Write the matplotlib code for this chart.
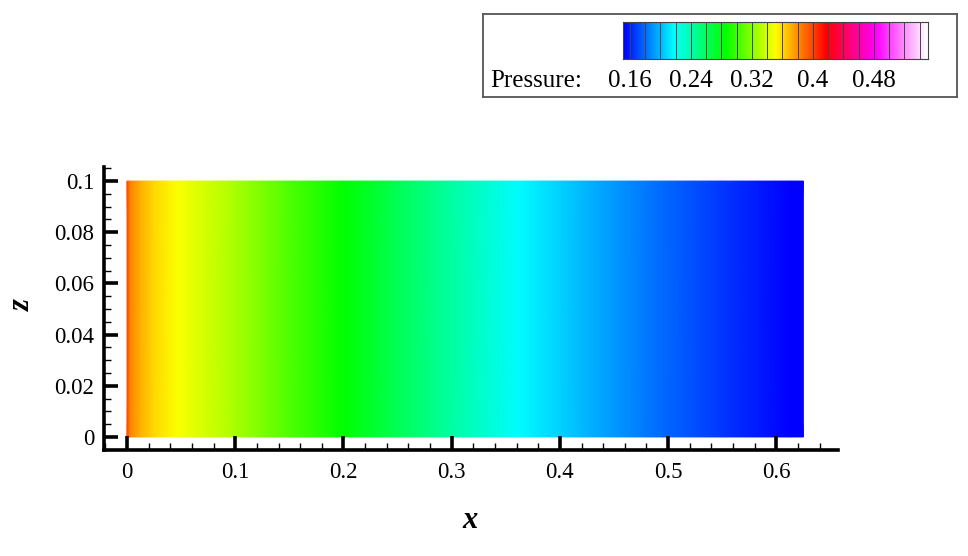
import numpy as np
import matplotlib
matplotlib.use('Agg')
from matplotlib import pyplot as plt
from matplotlib.colors import LinearSegmentedColormap, Normalize
from matplotlib.ticker import MultipleLocator

# pressure read along the channel (does not change with z)
x_samples = [0.0, 0.003, 0.012, 0.025, 0.046, 0.1, 0.15, 0.2, 0.25, 0.3, 0.363, 0.42, 0.48, 0.55, 0.613, 0.625]
p_samples = [0.398, 0.383, 0.372, 0.361, 0.351, 0.328, 0.305, 0.284, 0.262, 0.242, 0.217, 0.200, 0.183, 0.166, 0.152, 0.151]
z_edges = [0.0, 0.1]

legend_min, legend_max = 0.151, 0.551
legend_levels = [round(0.16 + 0.02 * i, 2) for i in range(20)]
legend_labels = ['0.16', '0.24', '0.32', '0.4', '0.48']

rainbow = LinearSegmentedColormap.from_list(
    'large_rainbow',
    ['#0000ff', '#00ffff', '#00ff00', '#ffff00', '#ff0000', '#ff00ff', '#ffffff'])
norm = Normalize(legend_min, legend_max)

plt.rcParams['font.family'] = ['Liberation Serif', 'DejaVu Serif']
W, H = 968, 556
fig = plt.figure(figsize=(W / 100, H / 100), dpi=100)


def px_box(x0, y0, x1, y1):
    return [x0 / W, 1 - y1 / H, (x1 - x0) / W, (y1 - y0) / H]


# main plot
ax = fig.add_axes(px_box(104, 167, 838, 450))
X, Z = np.meshgrid(x_samples, z_edges)
P = np.vstack([p_samples, p_samples])
ax.pcolormesh(X, Z, P, cmap=rainbow, norm=norm, shading='gouraud')
ax.set_xlim(-0.0213, 0.657)
ax.set_ylim(-0.0051, 0.1055)
for side in ['top', 'right']:
    ax.spines[side].set_visible(False)
for side in ['left', 'bottom']:
    ax.spines[side].set_linewidth(2.6)
ax.xaxis.set_major_locator(MultipleLocator(0.1))
ax.xaxis.set_minor_locator(MultipleLocator(0.02))
ax.yaxis.set_major_locator(MultipleLocator(0.02))
ax.yaxis.set_minor_locator(MultipleLocator(0.005))
ax.tick_params(which='major', direction='in', length=10, width=2.6, labelsize=16.5)
ax.tick_params(axis='x', which='major', pad=9)
ax.tick_params(axis='y', which='major', pad=7)
ax.tick_params(which='minor', direction='in', length=5, width=1)
ax.set_xticks([0, 0.1, 0.2, 0.3, 0.4, 0.5, 0.6])
ax.set_xticklabels(['0', '0.1', '0.2', '0.3', '0.4', '0.5', '0.6'])
ax.set_yticks([0, 0.02, 0.04, 0.06, 0.08, 0.1])
ax.set_yticklabels(['0', '0.02', '0.04', '0.06', '0.08', '0.1'])
ax.set_facecolor('none')

fig.text(470 / W, 1 - 520 / H, 'x', fontsize=22, fontweight='bold', fontstyle='italic',
         ha='center', va='center')
fig.text(22 / W, 1 - 305 / H, 'z', fontsize=22, fontweight='bold', fontstyle='italic',
         ha='center', va='center', rotation=90)

# legend box
box = fig.add_axes(px_box(483, 14, 957, 97))
box.set_xticks([])
box.set_yticks([])
for s in box.spines.values():
    s.set_linewidth(1.3)
    s.set_color('#555555')

bar = fig.add_axes(px_box(623, 22, 928, 59))
grad = np.linspace(legend_min, legend_max, 600)[None, :]
bar.imshow(grad, cmap=rainbow, norm=norm, aspect='auto',
           extent=[legend_min, legend_max, 0, 1])
bar.vlines(legend_levels, 0, 1, color='#444444', linewidth=0.7)
bar.set_xlim(legend_min, legend_max)
bar.set_ylim(0, 1)
bar.set_xticks([])
bar.set_yticks([])
for s in bar.spines.values():
    s.set_linewidth(0.8)
    s.set_color('#444444')
for lab in legend_labels:
    bar.text(float(lab), -0.6, lab, transform=bar.get_xaxis_transform(),
             fontsize=18, ha='center', va='center')
fig.text(490 / W, 1 - 81 / H, 'Pressure:', fontsize=18, ha='left', va='center')

fig.savefig('out.png', dpi=100)
